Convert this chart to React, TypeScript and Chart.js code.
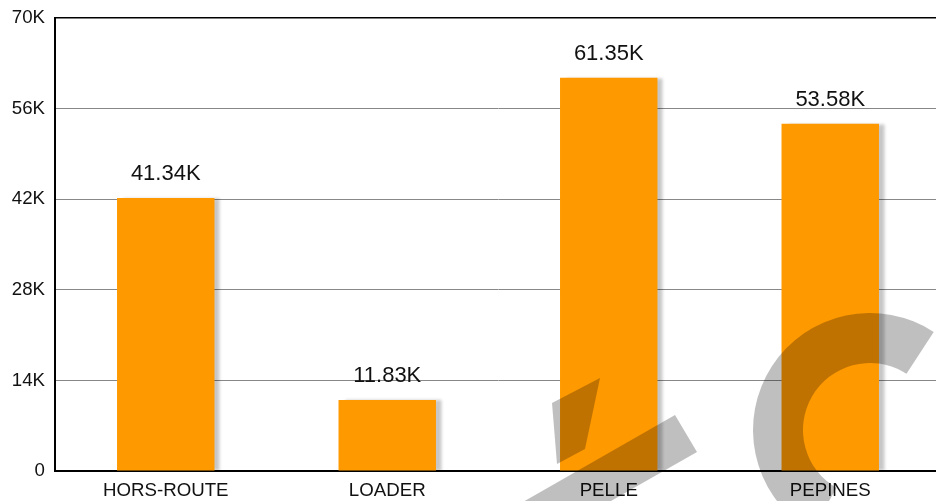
import React, { useEffect, useRef } from "react";
import { Chart, registerables } from "chart.js";

Chart.register(...registerables);

const categories = ["HORS-ROUTE", "LOADER", "PELLE", "PEPINES"];
// bar heights as drawn in the picture
const values = [42190, 10970, 60780, 53670];
// value labels printed above the bars
const valueLabels = ["41.34K", "11.83K", "61.35K", "53.58K"];
const yTicks = [0, 14000, 28000, 42000, 56000, 70000];

const FONT = "'Liberation Sans', Arial, sans-serif";

const shadowPlugin = {
  id: "barShadow",
  beforeDatasetsDraw(chart: any) {
    const ctx = chart.ctx;
    ctx.save();
    ctx.shadowColor = "rgba(0,0,0,0.22)";
    ctx.shadowOffsetX = 6;
    ctx.shadowOffsetY = 0;
    ctx.shadowBlur = 3;
  },
  afterDatasetsDraw(chart: any) {
    chart.ctx.restore();
    const ctx = chart.ctx;
    const meta = chart.getDatasetMeta(0);
    ctx.save();
    ctx.font = `22px ${FONT}`;
    ctx.fillStyle = "#111";
    ctx.textAlign = "center";
    ctx.textBaseline = "alphabetic";
    meta.data.forEach((bar: any, i: number) => {
      ctx.fillText(valueLabels[i], bar.x, bar.y - 18);
    });
    ctx.restore();
  },
};

const watermarkPlugin = {
  id: "watermark",
  afterDraw(chart: any) {
    const ctx = chart.ctx;
    ctx.save();
    ctx.fillStyle = "rgba(0,0,0,0.25)";
    // slash piece
    ctx.beginPath();
    ctx.moveTo(552, 403);
    ctx.lineTo(600, 378);
    ctx.lineTo(585, 449);
    ctx.lineTo(557, 464);
    ctx.closePath();
    ctx.fill();
    // band
    ctx.beginPath();
    ctx.moveTo(460, 538);
    ctx.lineTo(675, 415);
    ctx.lineTo(697, 452);
    ctx.lineTo(560, 530);
    ctx.lineTo(540, 560);
    ctx.closePath();
    ctx.fill();
    // C arc
    const cx = 870, cy = 430, R = 117, r = 67;
    const a0 = (-57 * Math.PI) / 180;
    const a1 = (120 * Math.PI) / 180;
    ctx.beginPath();
    ctx.arc(cx, cy, R, a0, a1, true);
    ctx.arc(cx, cy, r, a1, a0, false);
    ctx.closePath();
    ctx.fill();
    ctx.restore();
  },
};

export default function App() {
  const ref = useRef<HTMLCanvasElement>(null);
  useEffect(() => {
    if (!ref.current) return;
    const chart = new Chart(ref.current, {
      type: "bar",
      data: {
        labels: categories,
        datasets: [
          {
            data: values,
            backgroundColor: "#FF9900",
            borderWidth: 0,
            categoryPercentage: 1,
            barPercentage: 0.44,
          },
        ],
      },
      options: {
        responsive: false,
        animation: false,
        devicePixelRatio: 1,
        layout: { padding: { top: 18, right: 0, left: 0, bottom: 0 } },
        plugins: { legend: { display: false }, tooltip: { enabled: false } },
        scales: {
          x: {
            grid: { display: false, drawTicks: false },
            border: { display: true, color: "#000", width: 2 },
            ticks: {
              color: "#111",
              font: { family: FONT, size: 18.7 },
              padding: 9,
              maxRotation: 0,
            },
            afterFit(scale: any) {
              scale.height = 30;
            },
          },
          y: {
            min: 0,
            max: 70000,
            afterBuildTicks(scale: any) {
              scale.ticks = yTicks.map((v) => ({ value: v }));
            },
            grid: {
              drawTicks: false,
              color: (c: any) => (c.tick && c.tick.value === 70000 ? "#000" : "#888"),
              lineWidth: (c: any) => (c.tick && c.tick.value === 70000 ? 1.5 : 1),
            },
            border: { display: true, color: "#000", width: 2 },
            ticks: {
              color: "#111",
              font: { family: FONT, size: 18.7, lineHeight: 1 },
              padding: 10,
              callback: (v: any) => (v === 0 ? "0" : v / 1000 + "K"),
            },
            afterFit(scale: any) {
              scale.width = 55;
              scale.paddingTop = 0;
            },
          },
        },
      },
      plugins: [shadowPlugin, watermarkPlugin],
    });
    return () => chart.destroy();
  }, []);
  return (
    <div style={{ position: "absolute", left: 0, top: 0, width: 936, height: 501, overflow: "hidden", background: "#fff" }}>
      <canvas ref={ref} width={941} height={501} style={{ display: "block" }} />
    </div>
  );
}
